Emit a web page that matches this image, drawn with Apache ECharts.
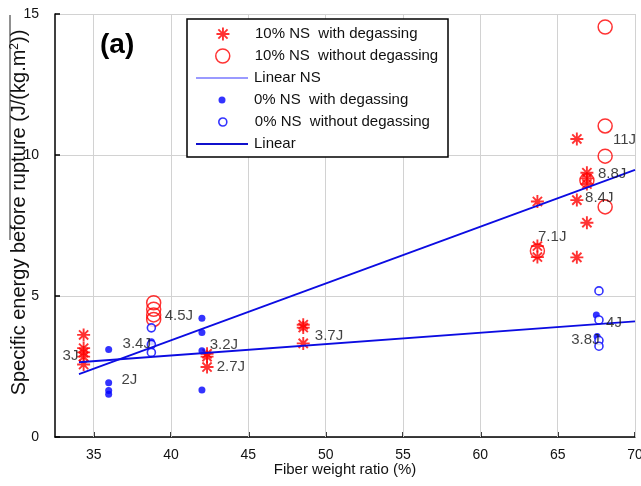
<!DOCTYPE html>
<html>
<head>
<meta charset="utf-8">
<script src="https://cdn.jsdelivr.net/npm/echarts@6/dist/echarts.min.js"></script>
<style>
html,body{margin:0;padding:0;background:#fff;}
#chart{width:641px;height:486px;}
</style>
</head>
<body>
<div id="chart"></div>
<script>
// ---- data ----
const xTicks = [35, 40, 45, 50, 55, 60, 65, 70];
const ns10Degassed = [
  [34.35, 3.62], [34.35, 3.15], [34.35, 3.0], [34.35, 2.85], [34.35, 2.57],
  [42.33, 2.95], [42.33, 2.85], [42.33, 2.48],
  [48.55, 3.98], [48.55, 3.88], [48.55, 3.32],
  [63.69, 8.35], [63.69, 6.77], [63.69, 6.38],
  [66.24, 10.57], [66.24, 8.40], [66.24, 6.37],
  [66.89, 9.37], [66.89, 9.17], [66.89, 8.97], [66.89, 7.60]
];
const ns10NotDegassed = [
  [38.88, 4.76], [38.88, 4.53], [38.88, 4.33], [38.88, 4.17],
  [68.07, 14.54], [68.07, 11.03], [68.07, 9.96], [68.07, 8.16],
  [66.89, 9.1], [63.69, 6.6]
];
const ns0Degassed = [
  [35.97, 3.1], [35.97, 1.92], [35.97, 1.65], [35.97, 1.52],
  [38.73, 3.38],
  [42.0, 4.21], [42.0, 3.71], [42.0, 3.06], [42.0, 1.67],
  [67.5, 4.33], [67.55, 3.56]
];
const ns0NotDegassed = [
  [38.73, 3.87], [38.73, 3.28], [38.73, 3.0],
  [67.67, 5.18], [67.67, 4.15], [67.67, 3.42], [67.67, 3.22]
];
const fitNS = [[34.05, 2.23], [70, 9.47]];
const fitAll = [[34.05, 2.65], [70, 4.1]];
const energyLabels = [
  [32.99, 2.87, '3J'], [36.8, 2.02, '2J'], [36.87, 3.30, '3.4J'], [39.59, 4.29, '4.5J'],
  [42.5, 3.26, '3.2J'], [42.95, 2.48, '2.7J'], [49.3, 3.58, '3.7J'], [63.73, 7.09, '7.1J'],
  [66.77, 8.48, '8.4J'], [67.6, 9.33, '8.8J'], [68.58, 10.53, '11J'], [68.13, 4.04, '4J'],
  [65.88, 3.44, '3.8J']
];
const seriesNames = [
  '10% NS  with degassing', '10% NS  without degassing', 'Linear NS',
  '0% NS  with degassing', '0% NS  without degassing', 'Linear'
];

const FONT = 'Liberation Sans, Arial, Helvetica, sans-serif';
const STAR = 'path://M5,0L5,10M0,5L10,5M1.46,1.46L8.54,8.54M1.46,8.54L8.54,1.46';
const RED = '#ff0000', BLUE = '#0000ff', LINEBLUE = '#0c0ce2';

// legend rows: [center y, icon, icon size, icon style]
const legendRows = [34, 56, 78, 100, 122, 144];
const legendIcons = [
  {icon: STAR, size: 13, style: {color: 'rgba(0,0,0,0)', borderColor: RED, borderWidth: 1.9}},
  {icon: 'circle', size: 14, style: {color: 'rgba(0,0,0,0)', borderColor: RED, borderWidth: 1.5}},
  {icon: 'rect', line: true, style: {color: '#9a9aff', borderWidth: 0}},
  {icon: 'circle', size: 7, style: {color: BLUE, borderWidth: 0}},
  {icon: 'circle', size: 8, style: {color: '#fff', borderColor: BLUE, borderWidth: 1.6}},
  {icon: 'rect', line: true, style: {color: '#1010cc', borderWidth: 0}}
];
const ICON_CX = 222, TEXT_X = 254;
const legends = seriesNames.map((n, i) => {
  const ic = legendIcons[i];
  const w = ic.line ? 52 : ic.size;
  const h = ic.line ? 2 : ic.size;
  const left = ic.line ? 196 : ICON_CX - ic.size / 2;
  const padLeft = Math.max(0, TEXT_X - (left + w + 5));
  return {
    data: [{name: n, icon: ic.icon, itemStyle: ic.style}],
    orient: 'vertical', left: left, top: legendRows[i] - 8,
    padding: 0, itemWidth: w, itemHeight: h, itemGap: 0,
    selectedMode: false, z: 12,
    textStyle: {fontFamily: FONT, fontSize: 15, color: '#111', lineHeight: 16, padding: [0, 0, 0, padLeft]}
  };
});

const chart = echarts.init(document.getElementById('chart'), null, {renderer: 'canvas'});
chart.setOption({
  animation: false,
  backgroundColor: '#fff',
  grid: {left: 55, right: 6, top: 14, bottom: 49, containLabel: false, outerBoundsMode: 'none'},
  legend: legends,
  graphic: [
    {type: 'rect', z: 10, shape: {x: 187, y: 19, width: 261, height: 138},
     style: {fill: '#fff', stroke: '#000', lineWidth: 1.5}},
    {type: 'text', z: 12, left: 100, top: 31,
     style: {text: '(a)', font: 'bold 28px ' + FONT, fill: '#000'}},
    {type: 'line', z: 12, shape: {x1: 10, y1: 15, x2: 10, y2: 240},
     style: {stroke: '#222', lineWidth: 1}}
  ],
  xAxis: {
    type: 'value', min: 32.5, max: 70,
    name: 'Fiber weight ratio (%)', nameLocation: 'middle', nameGap: 25, nameMoveOverlap: false,
    nameTextStyle: {fontFamily: FONT, fontSize: 15, color: '#111'},
    axisLine: {show: true, onZero: false, lineStyle: {color: '#000', width: 1.5}},
    axisTick: {show: true, inside: true, length: 5, customValues: xTicks, lineStyle: {color: '#000', width: 1.5}},
    axisLabel: {customValues: xTicks, fontFamily: FONT, fontSize: 14, color: '#111', margin: 11},
    splitLine: {show: false}
  },
  yAxis: {
    type: 'value', min: 0, max: 15, interval: 5,
    name: 'Specific energy before rupture (J/(kg.m{sup|2}))', nameLocation: 'middle', nameGap: 25,
    nameMoveOverlap: false,
    nameTextStyle: {fontFamily: FONT, fontSize: 20, color: '#111', padding: [0, 0, 0, 26],
      rich: {sup: {fontFamily: FONT, fontSize: 12, verticalAlign: 'top', padding: [0, 0, 9, 0], color: '#111'}}},
    axisLine: {show: true, onZero: false, lineStyle: {color: '#000', width: 1.5}},
    axisTick: {show: true, inside: true, length: 5, lineStyle: {color: '#000', width: 1.5}},
    axisLabel: {fontFamily: FONT, fontSize: 14, color: '#111', margin: 16},
    splitLine: {show: true, lineStyle: {color: '#d2d2d2', width: 1}}
  },
  series: [
    {
      name: seriesNames[0], type: 'scatter', data: ns10Degassed, symbol: STAR, symbolSize: 13, z: 4,
      itemStyle: {color: 'rgba(0,0,0,0)', borderColor: RED, borderWidth: 1.9},
      markLine: {
        silent: true, symbol: 'none', label: {show: false}, z: 1,
        lineStyle: {color: '#d2d2d2', width: 1, type: 'solid'},
        data: xTicks.map(v => ({xAxis: v}))
      }
    },
    {
      name: seriesNames[1], type: 'scatter', data: ns10NotDegassed, symbol: 'circle', symbolSize: 14, z: 3,
      itemStyle: {color: 'rgba(0,0,0,0)', borderColor: RED, borderWidth: 1.5}
    },
    {
      name: seriesNames[2], type: 'line', data: fitNS, symbol: 'none', z: 5,
      itemStyle: {color: LINEBLUE}, lineStyle: {color: LINEBLUE, width: 1.8}
    },
    {
      name: seriesNames[3], type: 'scatter', data: ns0Degassed, symbol: 'circle', symbolSize: 7, z: 4,
      itemStyle: {color: BLUE}
    },
    {
      name: seriesNames[4], type: 'scatter', data: ns0NotDegassed, symbol: 'circle', symbolSize: 8, z: 4,
      itemStyle: {color: '#fff', borderColor: BLUE, borderWidth: 1.6}
    },
    {
      name: seriesNames[5], type: 'line', data: fitAll, symbol: 'none', z: 5,
      itemStyle: {color: LINEBLUE}, lineStyle: {color: LINEBLUE, width: 1.8}
    },
    {
      name: 'energy labels', type: 'scatter', data: energyLabels, symbolSize: 0, z: 6, silent: true,
      label: {show: true, position: 'right', distance: 0, formatter: p => p.data[2],
        fontFamily: FONT, fontSize: 15, color: '#111'}
    }
  ]
});
</script>
</body>
</html>
